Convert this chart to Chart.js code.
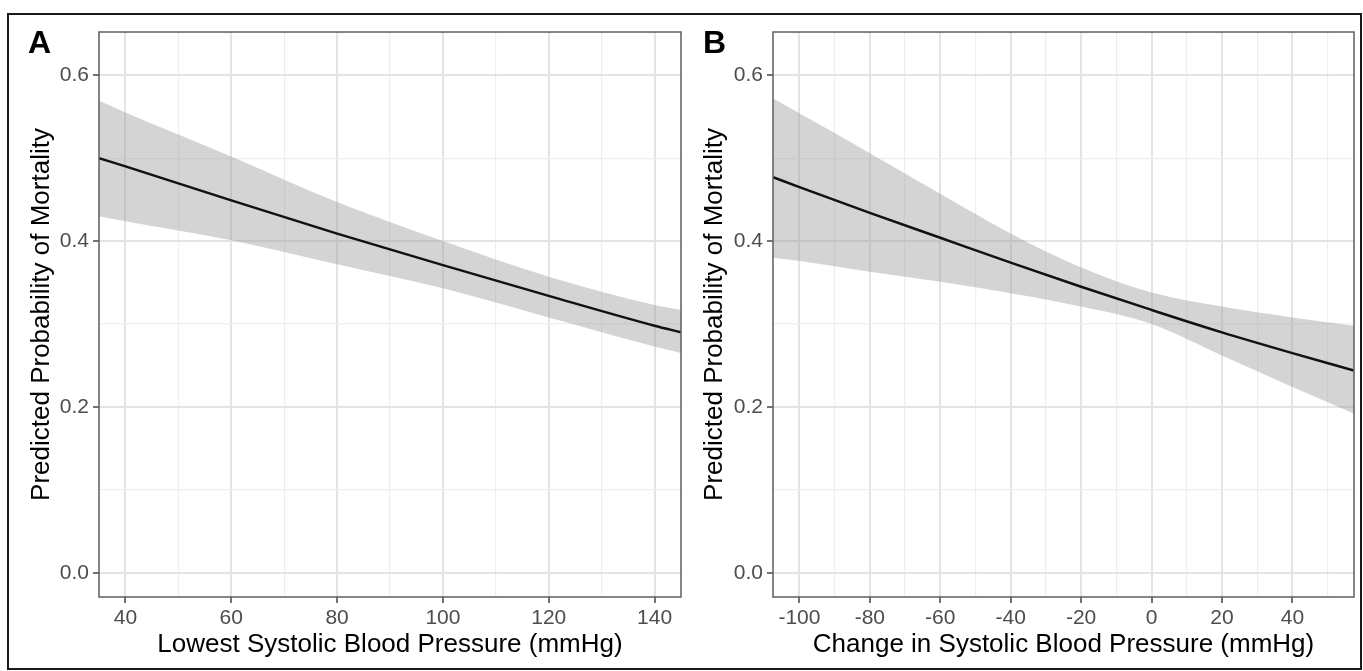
<!DOCTYPE html>
<html>
<head>
<meta charset="utf-8">
<script src="https://cdn.jsdelivr.net/npm/chart.js@4.4.1/dist/chart.umd.min.js"></script>
<style>
  body { margin: 0; background: #fff; width: 1363px; height: 671px; overflow: hidden; position: relative; }
  #frame { position: absolute; left: 7px; top: 13px; width: 1351px; height: 653px; border: 2px solid #1a1a1a; }
  canvas { position: absolute; top: 0; }
  #panelA { left: 0; }
  #panelB { left: 682px; }
</style>
</head>
<body>
<div id="frame"></div>
<canvas id="panelA" width="682" height="671"></canvas>
<canvas id="panelB" width="681" height="671"></canvas>
<script>
const FONT = "'Liberation Sans', Arial, Helvetica, sans-serif";

// y axis (shared)
const yTicks = [0, 0.1, 0.2, 0.3, 0.4, 0.5, 0.6];
const yMajor = [0, 0.2, 0.4, 0.6];

// panel A: lowest systolic BP
const sbpLowest = [35, 40, 60, 80, 100, 120, 140, 145];
const fitA = [0.500, 0.490, 0.449, 0.409, 0.371, 0.334, 0.298, 0.290];
const upperA = [0.569, 0.555, 0.502, 0.447, 0.400, 0.357, 0.323, 0.317];
const lowerA = [0.430, 0.424, 0.401, 0.372, 0.343, 0.308, 0.273, 0.265];
const xTicksA = [40, 50, 60, 70, 80, 90, 100, 110, 120, 130, 140];
const xMajorA = [40, 60, 80, 100, 120, 140];

// panel B: change in systolic BP
const sbpChange = [-107.5, -100, -80, -60, -40, -20, 0, 20, 40, 57.5];
const fitB = [0.477, 0.465, 0.434, 0.404, 0.374, 0.345, 0.317, 0.290, 0.265, 0.244];
const upperB = [0.572, 0.554, 0.506, 0.457, 0.409, 0.368, 0.338, 0.321, 0.308, 0.298];
const lowerB = [0.380, 0.376, 0.363, 0.351, 0.337, 0.321, 0.300, 0.262, 0.224, 0.192];
const xTicksB = [-100, -90, -80, -70, -60, -50, -40, -30, -20, -10, 0, 10, 20, 30, 40, 50];
const xMajorB = [-100, -80, -60, -40, -20, 0, 20, 40];

const isIn = (v, list) => list.some(m => Math.abs(m - v) < 1e-9);

const panelDeco = {
  id: 'panelDeco',
  afterDatasetsDraw(chart, args, opts) {
    const { ctx, chartArea: a } = chart;
    ctx.save();
    ctx.strokeStyle = '#5e5e5e';
    ctx.lineWidth = 1.5;
    ctx.strokeRect(a.left, a.top, a.right - a.left, a.bottom - a.top);
    ctx.fillStyle = '#000';
    ctx.font = 'bold 32px ' + FONT;
    ctx.textBaseline = 'alphabetic';
    ctx.fillText(opts.letter, opts.letterX, 53);
    ctx.restore();
  }
};

function gridOpts(major) {
  return {
    color: c => isIn(c.tick.value, major) ? '#e4e4e4' : '#eeeeee',
    lineWidth: c => isIn(c.tick.value, major) ? 2 : 1.2,
    tickColor: c => isIn(c.tick.value, major) ? '#444' : 'rgba(0,0,0,0)',
    tickWidth: 1.5,
    tickLength: 6
  };
}

function makePanel(id, p) {
  const pts = arr => p.xs.map((x, i) => ({ x: x, y: arr[i] }));
  new Chart(document.getElementById(id), {
    type: 'line',
    data: {
      datasets: [
        // first dataset is painted last, so the fitted line sits on top of the band
        { data: pts(p.fit), borderColor: '#111', borderWidth: 2.5, pointRadius: 0, fill: false,
          cubicInterpolationMode: 'monotone' },
        { data: pts(p.upper), borderWidth: 0, pointRadius: 0, fill: '+1',
          backgroundColor: 'rgba(153,153,153,0.42)', cubicInterpolationMode: 'monotone' },
        { data: pts(p.lower), borderWidth: 0, pointRadius: 0, fill: false,
          cubicInterpolationMode: 'monotone' }
      ]
    },
    options: {
      responsive: false,
      animation: false,
      events: [],
      layout: { padding: p.pad },
      plugins: {
        legend: { display: false },
        tooltip: { enabled: false },
        panelDeco: { letter: p.letter, letterX: p.letterX }
      },
      scales: {
        x: {
          type: 'linear',
          min: p.xMin,
          max: p.xMax,
          afterBuildTicks: s => { s.ticks = p.xTicks.map(v => ({ value: v })); },
          afterFit: s => { s.height = p.xHeight; },
          ticks: {
            callback: v => isIn(v, p.xMajor) ? String(v) : '',
            color: '#4d4d4d',
            font: { family: FONT, size: 21 },
            padding: 3,
            maxRotation: 0,
            autoSkip: false
          },
          grid: gridOpts(p.xMajor),
          border: { display: false },
          title: { display: true, text: p.xTitle, color: '#000', font: { family: FONT, size: 26 }, padding: 0 }
        },
        y: {
          min: -0.029,
          max: 0.652,
          afterBuildTicks: s => { s.ticks = yTicks.map(v => ({ value: v })); },
          afterFit: s => { s.width = p.yWidth; },
          ticks: {
            callback: v => isIn(v, yMajor) ? v.toFixed(1) : '',
            color: '#4d4d4d',
            font: { family: FONT, size: 21 },
            padding: 4,
            autoSkip: false
          },
          grid: gridOpts(yMajor),
          border: { display: false },
          title: { display: true, text: 'Predicted Probability of Mortality', color: '#000',
                   font: { family: FONT, size: 26 }, padding: 0 }
        }
      }
    },
    plugins: [panelDeco]
  });
}

makePanel('panelA', {
  xs: sbpLowest, fit: fitA, upper: upperA, lower: lowerA,
  xMin: 35, xMax: 145, xTicks: xTicksA, xMajor: xMajorA,
  xTitle: 'Lowest Systolic Blood Pressure (mmHg)',
  letter: 'A', letterX: 28,
  pad: { left: 26, top: 32, right: 1, bottom: 11 },
  yWidth: 73, xHeight: 63
});

makePanel('panelB', {
  xs: sbpChange, fit: fitB, upper: upperB, lower: lowerB,
  xMin: -107.5, xMax: 57.5, xTicks: xTicksB, xMajor: xMajorB,
  xTitle: 'Change in Systolic Blood Pressure (mmHg)',
  letter: 'B', letterX: 21,
  pad: { left: 17, top: 32, right: 9, bottom: 11 },
  yWidth: 74, xHeight: 63
});
</script>
</body>
</html>
